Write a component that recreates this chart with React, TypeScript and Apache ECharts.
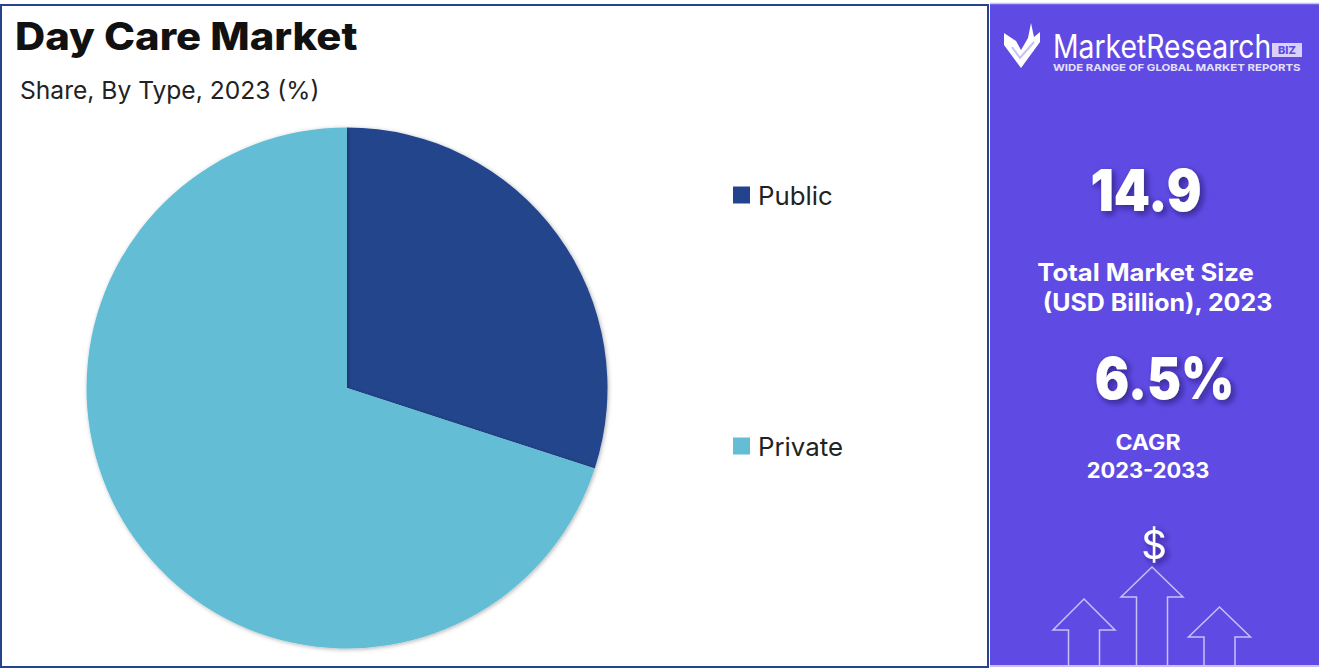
import React, { useEffect, useRef } from "react";
import * as echarts from "echarts";

const TITLE = "Day Care Market";
const SUBTITLE = "Share, By Type, 2023 (%)";
const categories = ["Public", "Private"];
const shareValues = [30, 70];
const sliceColors = ["#23448C", "#62BDD5"];
const marketSize = "14.9";
const marketSizeLines = ["Total Market Size", "(USD Billion), 2023"];
const cagr = "6.5%";
const cagrLines = ["CAGR", "2023-2033"];

const FONT = "Inter, 'Noto Sans', sans-serif";
const PANEL = "#5F4BE3";
const LINE = "#C9C0F7";

const arrow = (ax: number, ay: number, hw: number, iw: number, wy: number) => ({
  type: "polyline",
  silent: true,
  shape: {
    points: [
      [ax - iw, 666],
      [ax - iw, wy],
      [ax - hw, wy],
      [ax, ay],
      [ax + hw, wy],
      [ax + iw, wy],
      [ax + iw, 666],
    ],
  },
  style: { stroke: LINE, lineWidth: 1.5, fill: "none" },
});

const panelText = (text: string, x: number, y: number, size: number, weight: number, scaleX = 1, big = false) => ({
  type: "text",
  silent: true,
  x,
  y,
  scaleX,
  style: {
    text,
    fill: "#ffffff",
    font: `${weight} ${size}px ${FONT}`,
    textAlign: "center",
    textVerticalAlign: "middle",
    ...(big
      ? { textShadowBlur: 6, textShadowColor: "rgba(30,20,90,0.65)", textShadowOffsetX: 3, textShadowOffsetY: 3 }
      : {}),
  },
});

export default function App() {
  const ref = useRef<HTMLDivElement>(null);
  useEffect(() => {
    if (!ref.current) return;
    const chart = echarts.init(ref.current, undefined, { renderer: "svg" });
    chart.setOption({
      animation: false,
      backgroundColor: "#ffffff",
      color: sliceColors,
      legend: {
        orient: "vertical",
        left: 733,
        top: 182,
        padding: 0,
        itemWidth: 17,
        itemHeight: 17,
        itemGap: 225,
        icon: "rect",
        selectedMode: false,
        data: categories,
        textStyle: { fontFamily: FONT, fontSize: 25.8, lineHeight: 24, color: "#222222", padding: [0, 0, 2, 3] },
      },
      series: [
        {
          type: "pie",
          center: [347, 388],
          radius: [0, 260.5],
          startAngle: 90,
          clockwise: true,
          label: { show: false },
          labelLine: { show: false },
          silent: true,
          itemStyle: { shadowBlur: 4, shadowColor: "rgba(0,0,0,0.3)", shadowOffsetX: 1, shadowOffsetY: 1 },
          data: categories.map((name, i) => ({ name, value: shareValues[i] })),
        },
      ],
      graphic: [
        {
          type: "rect",
          silent: true,
          shape: { x: 1, y: 5, width: 987, height: 662 },
          style: { fill: "none", stroke: "#23448C", lineWidth: 2 },
        },
        {
          type: "rect",
          silent: true,
          shape: { x: 990, y: 3, width: 329, height: 664 },
          style: { fill: PANEL, stroke: "none" },
        },
        {
          type: "line",
          silent: true,
          shape: { x1: 990, y1: 3.5, x2: 1319, y2: 3.5 },
          style: { stroke: LINE, lineWidth: 1.5 },
        },
        {
          type: "text",
          silent: true,
          x: 15,
          y: 36,
          scaleX: 1.1,
          style: { text: TITLE, fill: "#111111", font: `800 38px ${FONT}`, textVerticalAlign: "middle" },
        },
        {
          type: "text",
          silent: true,
          x: 20,
          y: 90,
          style: { text: SUBTITLE, fill: "#222222", font: `400 24.6px ${FONT}`, textVerticalAlign: "middle" },
        },
        {
          type: "polygon",
          silent: true,
          shape: {
            points: [[1004, 33], [1016, 41], [1021, 50], [1028, 38], [1031, 23], [1034, 37], [1040, 32], [1040, 42], [1021, 68], [1004, 45]],
          },
          style: { fill: "#ffffff" },
        },
        {
          type: "polyline",
          silent: true,
          shape: { points: [[1012, 47], [1020, 58], [1034, 42]] },
          style: { stroke: LINE, lineWidth: 2, fill: "none" },
        },
        {
          type: "text",
          silent: true,
          x: 1053,
          y: 46,
          scaleX: 0.885,
          style: { text: "MarketResearch", fill: "#ffffff", font: `400 32px ${FONT}`, textVerticalAlign: "middle" },
        },
        {
          type: "rect",
          silent: true,
          shape: { x: 1272, y: 43, width: 30, height: 14 },
          style: { fill: "#D8D2FA" },
        },
        {
          type: "text",
          silent: true,
          x: 1287,
          y: 50,
          style: { text: "BIZ", fill: PANEL, font: `800 11px ${FONT}`, textAlign: "center", textVerticalAlign: "middle" },
        },
        {
          type: "text",
          silent: true,
          x: 1053,
          y: 68,
          scaleX: 1.2,
          style: { text: "WIDE RANGE OF GLOBAL MARKET REPORTS", fill: "#E4E0FC", font: `700 9.5px ${FONT}`, textVerticalAlign: "middle" },
        },
        panelText(marketSize, 1146, 190, 58, 900, 0.89, true),
        panelText(marketSizeLines[0], 1145.5, 272, 24, 700, 1.07),
        panelText(marketSizeLines[1], 1157.5, 302, 24, 700, 1.04),
        panelText(cagr, 1164.5, 378, 58, 900, 0.88, true),
        panelText(cagrLines[0], 1148, 442, 21, 700, 1.1),
        panelText(cagrLines[1], 1148, 470, 21, 700, 1.04),
        panelText("$", 1154, 544, 40, 400, 1, true),
        arrow(1084, 599, 31, 15.5, 630),
        arrow(1152, 567, 31, 15.5, 597),
        arrow(1219.5, 607, 31, 15.5, 637),
        {
          type: "line",
          silent: true,
          shape: { x1: 990, y1: 666, x2: 1319, y2: 666 },
          style: { stroke: LINE, lineWidth: 2 },
        },
      ],
    });
    return () => chart.dispose();
  }, []);
  return <div ref={ref} style={{ position: "absolute", left: 0, top: 0, width: 1319, height: 670 }} />;
}
